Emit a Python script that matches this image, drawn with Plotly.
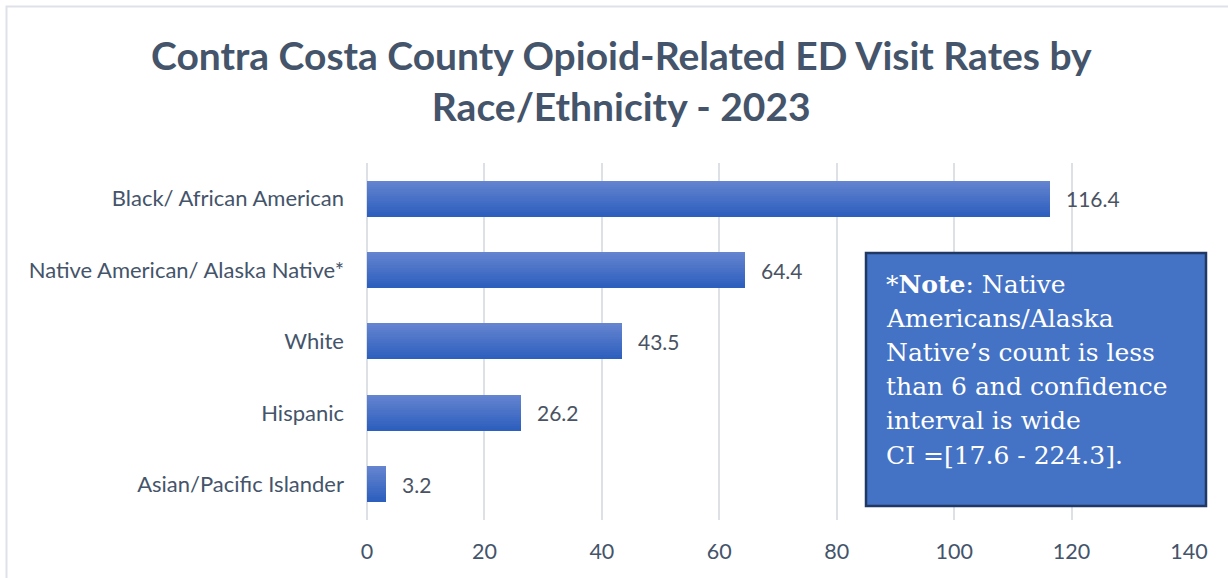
import plotly.graph_objects as go

# Opioid-related ED visit rates per 100k, Contra Costa County, 2023
categories = [
    "Black/ African American",
    "Native American/ Alaska Native*",
    "White",
    "Hispanic",
    "Asian/Pacific Islander",
]
rates = [116.4, 64.4, 43.5, 26.2, 3.2]
rate_labels = ["116.4", "64.4", "43.5", "26.2", "3.2"]
x_ticks = [0, 20, 40, 60, 80, 100, 120, 140]

title_lines = [
    "Contra Costa County Opioid-Related ED Visit Rates by",
    "Race/Ethnicity - 2023",
]
note_lines = [
    "*<b>Note</b>: Native",
    "Americans/Alaska",
    "Native’s count is less",
    "than 6 and confidence",
    "interval is wide",
    "CI =[17.6 - 224.3].",
]

W, H = 1228, 578
ML, MR, MT, MB = 367, 39, 163, 58
PW, PH = W - ML - MR, H - MT - MB


def px_x(p):
    return (p - ML) / PW


def px_y(p):
    return (H - MB - p) / PH


AXIS_TEXT = "#44546A"
BAR_W = 0.5
N_STRIPS = 16
TOP_RGB = (100, 132, 207)
BOT_RGB = (45, 95, 190)

fig = go.Figure()

# Bars drawn as stacked horizontal strips to give a vertical gradient
for i in range(N_STRIPS):
    t = i / (N_STRIPS - 1)
    rgb = tuple(round(a + (b - a) * t) for a, b in zip(TOP_RGB, BOT_RGB))
    strip = BAR_W / N_STRIPS
    fig.add_trace(go.Bar(
        x=rates,
        y=categories,
        orientation="h",
        width=strip * 1.15,
        offset=BAR_W / 2 - (i + 1) * strip,
        marker=dict(color="rgb(%d,%d,%d)" % rgb, line=dict(width=0)),
        hoverinfo="skip",
        showlegend=False,
    ))

# Value labels to the right of each bar
for cat, val, lab in zip(categories, rates, rate_labels):
    fig.add_annotation(
        x=val, y=cat, text=lab, showarrow=False,
        xanchor="left", yanchor="middle", xshift=14,
        font=dict(family="Lato", size=21, color="#4A5363"),
    )

# Two-line chart title
fig.add_annotation(
    xref="paper", yref="paper",
    x=px_x(621), y=px_y(81), xanchor="center", yanchor="middle",
    text="<br>".join(title_lines), showarrow=False,
    font=dict(family="Lato", size=39, color="#44546A", weight="bold"),
)

# Note box
fig.add_shape(
    type="rect", xref="paper", yref="paper",
    x0=px_x(866), x1=px_x(1206), y0=px_y(506), y1=px_y(253),
    fillcolor="#4472C4", line=dict(color="#1F3864", width=2.5),
    layer="above",
)
NOTE_TOP, NOTE_STEP = 284, 34.2
for k, line in enumerate(note_lines):
    fig.add_annotation(
        xref="paper", yref="paper",
        x=px_x(884), y=px_y(NOTE_TOP + k * NOTE_STEP),
        xanchor="left", yanchor="middle",
        align="left", showarrow=False, text=line,
        font=dict(family="DejaVu Serif", size=25, color="white"),
    )

# Outer chart border
fig.add_shape(
    type="rect", xref="paper", yref="paper",
    x0=px_x(6.5), x1=px_x(1240), y0=px_y(590), y1=px_y(6.5),
    line=dict(color="#DEE2E8", width=2), fillcolor="rgba(0,0,0,0)",
    layer="below",
)

fig.update_layout(
    width=W, height=H,
    margin=dict(l=ML, r=MR, t=MT, b=MB),
    paper_bgcolor="white", plot_bgcolor="white",
    barmode="overlay",
    bargap=0,
    xaxis=dict(
        range=[0, 140], tickvals=x_ticks, showgrid=True,
        gridcolor="#DDE1E6", gridwidth=1.5, zeroline=True,
        zerolinecolor="#DDE1E6", zerolinewidth=1.5, showline=False,
        ticks="", ticklabelstandoff=16,
        tickfont=dict(family="Lato", size=21.5, color=AXIS_TEXT),
        fixedrange=True,
    ),
    yaxis=dict(
        categoryorder="array", categoryarray=categories[::-1],
        showgrid=False, zeroline=False, showline=False, ticks="",
        ticklabelstandoff=22,
        tickfont=dict(family="Lato", size=22, color=AXIS_TEXT),
        fixedrange=True,
    ),
    font=dict(family="Lato"),
)

fig.write_html("out.html")
